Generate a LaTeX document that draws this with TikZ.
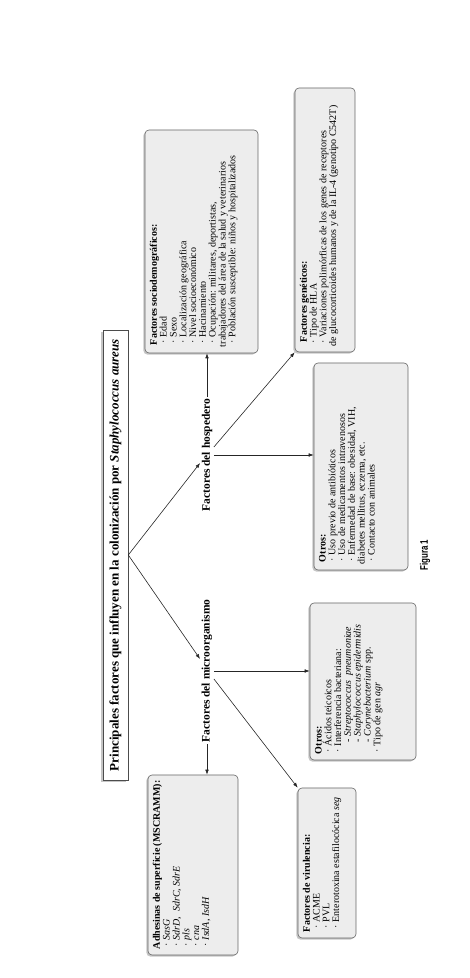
\documentclass[tikz,border=0pt]{standalone}
\usepackage{fontspec}
\setmainfont{Liberation Serif}
\newfontfamily\figfont[FakeStretch=0.72]{Liberation Sans}
\usetikzlibrary{arrows.meta,shadows,calc}
\tikzset{
  box/.style={draw=black!60, fill=black!7, rounded corners=4pt, line width=0.6pt, inner sep=0pt,
    drop shadow={shadow xshift=-1.6pt, shadow yshift=-1.6pt, fill=black!45}},
  boxtext/.style={anchor=north west, align=left, inner sep=0pt, font=\fontsize{10}{9.8}\selectfont},
  branch/.style={font=\fontsize{11.5}{13}\selectfont\bfseries, inner sep=1.5pt},
  conn/.style={-{Latex[length=5pt,width=3.6pt]}, line width=0.6pt, draw=black!85},
  titlebox/.style={draw=black!70, fill=white, line width=0.6pt, minimum height=25pt, inner xsep=9pt, inner ysep=0pt,
    font=\fontsize{13}{15}\selectfont\bfseries, drop shadow={shadow xshift=-1.6pt, shadow yshift=-1.6pt, fill=black!45}},
  figlabel/.style={font=\figfont\bfseries\fontsize{11}{12}\selectfont, inner sep=1pt}
}
\newcommand\bul{·\ }
\begin{document}
\begin{tikzpicture}[x=1pt,y=1pt]
\begin{scope}[rotate=90, transform shape]
\useasboundingbox (0,0) rectangle (978,469);
% title and branch labels
\node[titlebox] (title) at (423,353.5) {Principales factores que influyen en la colonización por \textit{Staphylococcus aureus}};
\node[branch] (hosp) at (523,262) {Factores del hospedero};
\node[branch] (micro) at (307,262) {Factores del microorganismo};
% boxes
\node[box, minimum width=223pt, minimum height=113pt] (socio) at (736.5,267.5) {};
\node[box, minimum width=264pt, minimum height=60pt] (gen) at (758,144) {};
\node[box, minimum width=207pt, minimum height=94pt] (otrosH) at (511.5,108) {};
\node[box, minimum width=157pt, minimum height=106pt] (otrosM) at (296.5,106) {};
\node[box, minimum width=150pt, minimum height=58pt] (vir) at (115,142) {};
\node[box, minimum width=180pt, minimum height=90pt] (adh) at (113,276) {};
% box texts
\node[boxtext] (sociotext) at ($(socio.north west)+(6,-5)$) {\hspace*{2pt}\textbf{Factores sociodemográficos:}\\
\hspace*{4pt}\bul Edad\\
\hspace*{4pt}\bul Sexo\\
\hspace*{4pt}\bul Localización geográfica\\
\hspace*{4pt}\bul Nivel socioeconómico\\
\hspace*{4pt}\bul Hacinamiento\\
\hspace*{4pt}\bul Ocupación: militares, deportistas,\\
trabajadores del área de la salud y veterinarios\\
\hspace*{4pt}\bul Población susceptible: niños y hospitalizados};
\node[boxtext] (gentext) at ($(gen.north west)+(6,-5)$) {\hspace*{4pt}\textbf{Factores genéticos:}\\
\hspace*{3pt}\bul Tipo de HLA\\
\hspace*{3pt}\bul Variaciones polimórficas de los genes de receptores\\
de glucocorticoides humanos y de la IL-4 (genotipo C542T)};
\node[boxtext] (otrosHtext) at ($(otrosH.north west)+(6,-5)$) {\hspace*{2pt}\textbf{Otros:}\\
\hspace*{3pt}\bul Uso previo de antibióticos\\
\hspace*{3pt}\bul Uso de medicamentos intravenosos\\
\hspace*{3pt}\bul Enfermedad de base: obesidad, VIH,\\
diabetes mellitus, eczema, etc.\\
\hspace*{3pt}\bul Contacto con animales};
\node[boxtext] (otrosMtext) at ($(otrosM.north west)+(6,-5)$) {\textbf{Otros:}\\
\hspace*{2pt}\bul Ácidos teicoicos\\
\hspace*{2pt}\bul Interferencia bacteriana:\\
\hspace*{12pt}- \textit{Streptococcus\ \ pneumoniae}\\
\hspace*{12pt}- \textit{Staphylococcus epidermidis}\\
\hspace*{12pt}- \textit{Corynebacterium} spp.\\
\hspace*{2pt}\bul Tipo de gen \textit{agr}};
\node[boxtext] (virtext) at ($(vir.north west)+(6,-5)$) {\textbf{Factores de virulencia:}\\
\hspace*{4pt}\bul ACME\\
\hspace*{4pt}\bul PVL\\
\hspace*{4pt}\bul Enterotoxina estafilocócica \textit{seg}};
\node[boxtext] (adhtext) at ($(adh.north west)+(6,-5)$) {\textbf{Adhesinas de superficie (MSCRAMM):}\\
\hspace*{3pt}\bul \textit{SasG}\\
\hspace*{3pt}\bul \textit{SdrD},\ \ \textit{SdrC}, \textit{SdrE}\\
\hspace*{3pt}\bul \textit{pls}\\
\hspace*{3pt}\bul \textit{cna}\\
\hspace*{3pt}\bul \textit{IsdA}, \textit{IsdH}};
% figure label
\node[figlabel] (fig) at (423,44) {Figura 1};
% connectors
\draw[conn] (title.south) -- ($(hosp.north)+(-8,0)$);
\draw[conn] (title.south) -- ($(micro.north)+(12,0)$);
\draw[conn] (hosp.east) -- (socio.west |- hosp.east);
\draw[conn] ($(hosp.south)+(8,0)$) -- (gen.north west);
\draw[conn] (hosp.south) -- (hosp.south |- otrosH.north);
\draw[conn] (micro.west) -- (adh.east |- micro.west);
\draw[conn] (micro.south) -- (micro.south |- otrosM.north);
\draw[conn] ($(micro.south)+(-8,0)$) -- (vir.north east);
\end{scope}
\end{tikzpicture}
\end{document}
